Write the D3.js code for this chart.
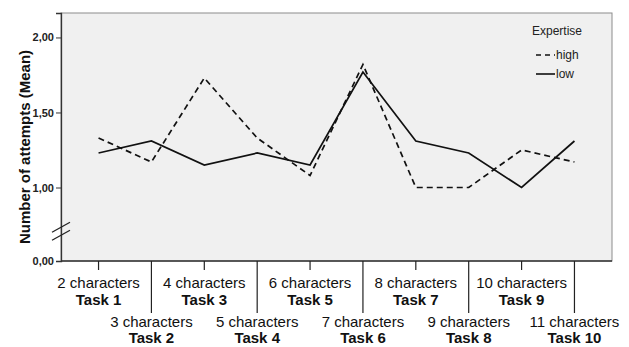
<!DOCTYPE html>
<html>
<head>
<meta charset="utf-8">
<script src="https://cdn.jsdelivr.net/npm/d3@7"></script>
<style>
  body { margin: 0; background: #fff; }
  svg { display: block; font-family: "Liberation Sans", Arial, sans-serif; }
</style>
</head>
<body>
<svg width="629" height="347"></svg>
<script>
// chart values
const tasks = ["Task 1", "Task 2", "Task 3", "Task 4", "Task 5", "Task 6", "Task 7", "Task 8", "Task 9", "Task 10"];
const charLabels = ["2 characters", "3 characters", "4 characters", "5 characters", "6 characters",
                    "7 characters", "8 characters", "9 characters", "10 characters", "11 characters"];
const highValues = [1.33, 1.17, 1.73, 1.33, 1.08, 1.82, 1.00, 1.00, 1.25, 1.17];
const lowValues = [1.23, 1.31, 1.15, 1.23, 1.15, 1.77, 1.31, 1.23, 1.00, 1.31];
const yTicks = [0, 1, 1.5, 2];

const svg = d3.select("svg");
const frame = { left: 61, top: 13, right: 612, bottom: 261 };

// x: one point per task
const x = d3.scalePoint()
    .domain(tasks)
    .range([frame.left, frame.right])
    .padding(0.71);

// y axis is broken between 0 and 1
const y = d3.scaleLinear()
    .domain([0, 1, 2.163])
    .range([frame.bottom, 187.5, frame.top]);

// plot background
svg.append("rect")
    .attr("x", frame.left)
    .attr("y", frame.top)
    .attr("width", frame.right - frame.left)
    .attr("height", frame.bottom - frame.top)
    .attr("fill", "#f0f0f0")
    .attr("stroke", "#8c8c8c")
    .attr("stroke-width", 1);

// Y axis
const yAxis = svg.append("g")
    .attr("transform", `translate(${frame.left},0)`)
    .call(d3.axisLeft(y).tickValues(yTicks).tickSize(5).tickPadding(2)
        .tickFormat(d => d3.format(".2f")(d).replace(".", ",")));
yAxis.select(".domain").attr("stroke", "#333").attr("stroke-width", 1.3);
yAxis.selectAll(".tick line").attr("stroke", "#333");
yAxis.selectAll(".tick text")
    .attr("fill", "#222")
    .style("font-size", "11px")
    .style("font-weight", "bold")
    .style("font-family", "'Liberation Sans', Arial, sans-serif");

// axis break marks
const breakY = (y(0) + y(1)) / 2 + 7;
[-4, 4].forEach(off => {
    svg.append("line")
        .attr("x1", frame.left - 9).attr("y1", breakY + off + 5)
        .attr("x2", frame.left + 9).attr("y2", breakY + off - 5)
        .attr("stroke", "#222")
        .attr("stroke-width", 1.3);
});

// Y title
svg.append("text")
    .attr("transform", `translate(30,${(frame.top + frame.bottom) / 2 + 10}) rotate(-90)`)
    .attr("text-anchor", "middle")
    .style("font-size", "15px")
    .style("font-weight", "bold")
    .attr("fill", "#111")
    .text("Number of attempts (Mean)");

// X axis line
svg.append("line")
    .attr("x1", frame.left).attr("x2", frame.right)
    .attr("y1", frame.bottom).attr("y2", frame.bottom)
    .attr("stroke", "#333")
    .attr("stroke-width", 1.3);

// X ticks and staggered labels
const xTick = svg.selectAll(".xtick")
    .data(tasks)
    .enter().append("g")
    .attr("class", "xtick")
    .attr("transform", d => `translate(${x(d)},${frame.bottom})`);

xTick.append("line")
    .attr("y1", 0)
    .attr("y2", (d, i) => i % 2 === 0 ? 9 : 52)
    .attr("stroke", "#222")
    .attr("stroke-width", 1.2);

xTick.append("text")
    .attr("text-anchor", "middle")
    .attr("y", (d, i) => i % 2 === 0 ? 27 : 66)
    .style("font-size", "15px")
    .attr("fill", "#111")
    .text((d, i) => charLabels[i]);

xTick.append("text")
    .attr("text-anchor", "middle")
    .attr("y", (d, i) => i % 2 === 0 ? 44 : 82)
    .style("font-size", "15px")
    .style("font-weight", "bold")
    .attr("fill", "#111")
    .text(d => d);

// lines
const line = d3.line()
    .x((d, i) => x(tasks[i]))
    .y(d => y(d));

svg.append("path")
    .datum(highValues)
    .attr("d", line)
    .attr("fill", "none")
    .attr("stroke", "#111")
    .attr("stroke-width", 1.7)
    .attr("stroke-dasharray", "6,4");

svg.append("path")
    .datum(lowValues)
    .attr("d", line)
    .attr("fill", "none")
    .attr("stroke", "#111")
    .attr("stroke-width", 1.7);

// legend
const legend = svg.append("g").attr("transform", "translate(532,0)");
legend.append("text")
    .attr("x", 0).attr("y", 35)
    .style("font-size", "12px")
    .attr("fill", "#222")
    .text("Expertise");

const legendItems = [
    { name: "high", dash: "5,4" },
    { name: "low", dash: null }
];
legendItems.forEach((item, i) => {
    const yy = 55 + i * 19;
    legend.append("line")
        .attr("x1", 4).attr("x2", 23)
        .attr("y1", yy).attr("y2", yy)
        .attr("stroke", "#111")
        .attr("stroke-width", 1.6)
        .attr("stroke-dasharray", item.dash);
    legend.append("text")
        .attr("x", 24).attr("y", yy + 4)
        .style("font-size", "12px")
        .attr("fill", "#222")
        .text(item.name);
});
</script>
</body>
</html>
